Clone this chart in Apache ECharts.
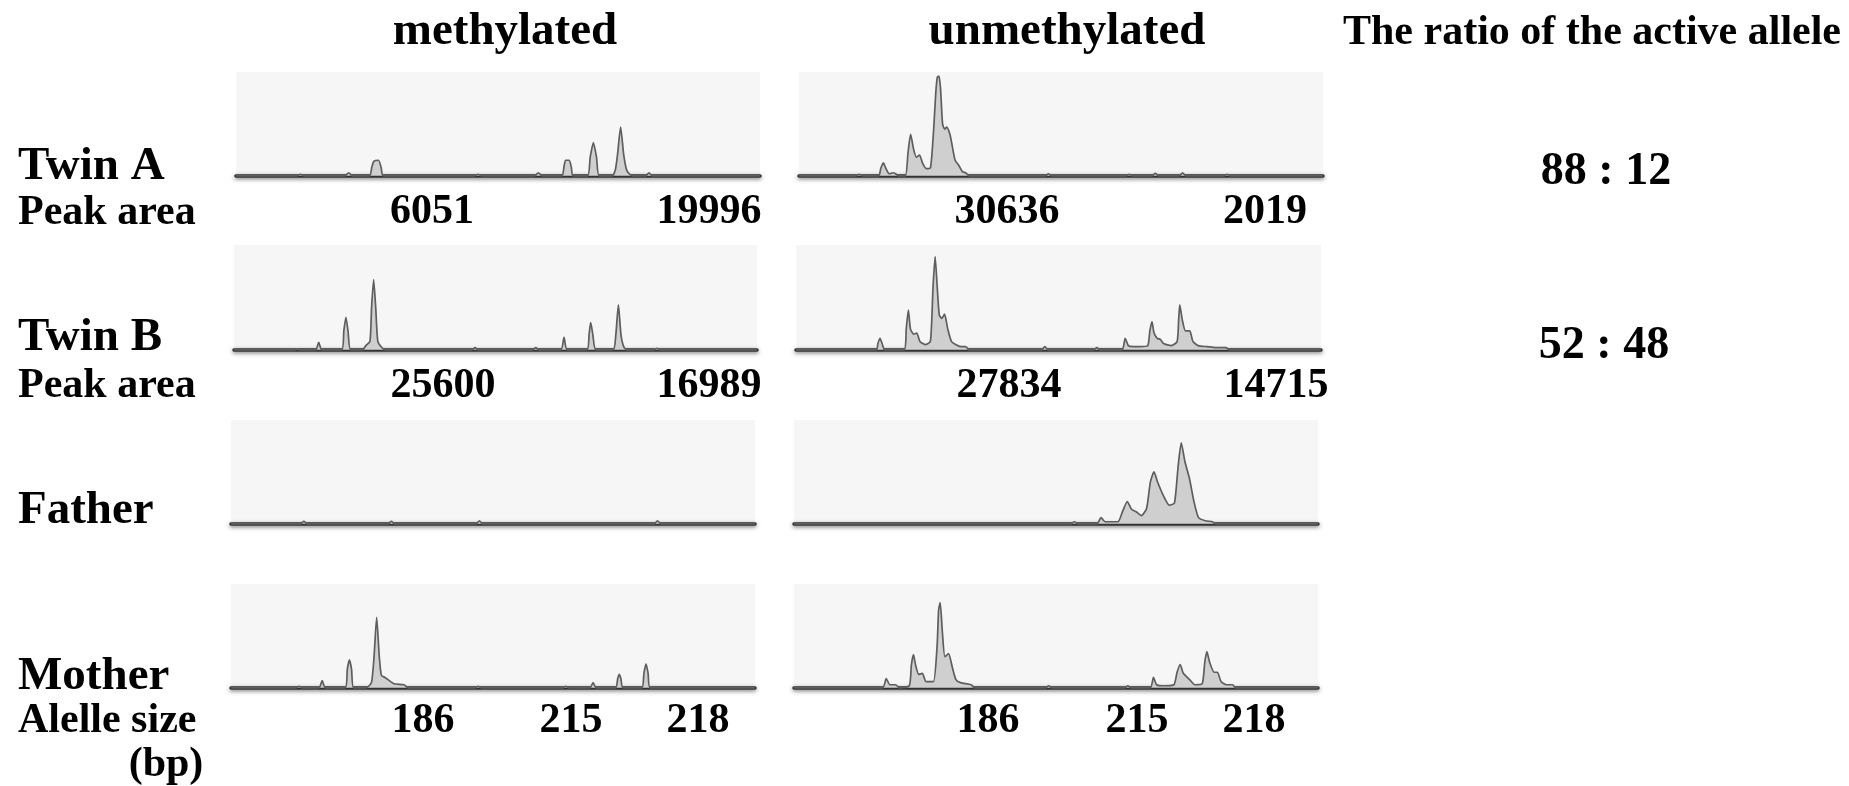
<!DOCTYPE html>
<html>
<head>
<meta charset="utf-8">
<script src="https://cdn.jsdelivr.net/npm/echarts@6/dist/echarts.min.js"></script>
<style>
  html, body { margin: 0; padding: 0; background: #fff; }
  #chart { width: 1849px; height: 786px; }
</style>
</head>
<body>
<div id="chart"></div>
<script>
// ---- Data (scan position 0-100 across each panel, relative signal 0-100) ----
const columnTitles = ['methylated', 'unmethylated'];
const ratioTitle = 'The ratio of the active allele';
const rowNames = ['Twin A', 'Twin B', 'Father', 'Mother'];
const peakAreaLabel = 'Peak area';
const alleleLabel = ['Alelle size', '(bp)'];
const peakAreaA = ['6051', '19996', '30636', '2019'];
const peakAreaB = ['25600', '16989', '27834', '14715'];
const alleleSizes = ['186', '215', '218'];
const ratios = ['88 : 12', '52 : 48'];

const twinAMethylated = [[0,0],[11.6,0],[12.3,1.5],[13,0],[20.8,0],[21.5,3],[22.2,0],[25.5,0],[25.9,8],[26.3,14],[27.2,15],[27.7,8],[28.1,0],[45.5,0],[46.2,1.5],[46.9,0],[57,0],[57.7,3],[58.4,0],[62.2,0],[62.6,9],[62.9,15],[63.6,15],[64.0,8],[64.3,0],[67.1,0],[67.6,18],[68.2,32],[68.8,18],[69.3,0],[71.8,0],[72.4,6],[72.8,20],[73.4,47],[74.0,20],[74.6,5],[75.6,0],[78.2,0],[78.8,3],[79.4,0],[100,0]];
const twinAUnmethylated = [[0,0],[10.8,0],[11.5,1.5],[12.2,0],[15.2,0],[15.6,7],[16.1,12.5],[16.6,7],[17.2,2],[18.1,3],[19,0],[20.3,0],[20.8,22],[21.3,40],[21.9,25],[22.4,18],[23,20],[23.6,12],[24.3,7],[25.1,8],[25.7,45],[26.1,80],[26.4,95],[26.7,96],[27.0,85],[27.4,50],[27.8,45],[28.2,47],[28.8,40],[29.2,30],[29.8,15],[30.5,10],[31.2,4],[31.8,3],[32.5,0],[47,0],[47.6,2],[48.2,0],[62.4,0],[63,1.5],[63.6,0],[67.4,0],[68,2.5],[68.6,0],[72.6,0],[73.2,3],[73.8,0],[81.1,0],[81.7,1.5],[82.3,0],[100,0]];
const twinBMethylated = [[0,0],[11.6,0],[12.1,1],[12.6,0],[15.6,0],[16.2,7],[16.8,0],[20.6,0],[21,18],[21.4,31],[21.8,18],[22.3,0],[24.6,0],[25.2,4],[26.0,8],[26.3,40],[26.7,67],[27.1,40],[27.5,8],[28.3,2],[29,0],[45.5,0],[46.1,2],[46.7,0],[57.1,0],[57.7,2],[58.3,0],[62.5,0],[63.1,12],[63.7,0],[67.5,0],[67.9,15],[68.2,26],[68.6,15],[69.2,0],[72.5,0],[73,14],[73.5,43],[74,14],[74.6,2],[75.3,0],[80.3,0],[80.9,1.5],[81.5,0],[100,0]];
const twinBUnmethylated = [[0,0],[15.3,0],[15.6,6],[16,11],[16.4,6],[16.9,0],[20.6,0],[21,20],[21.4,38],[21.8,20],[22.4,15],[23,16],[23.6,8],[24.6,5],[25.6,8],[26.1,60],[26.5,89],[26.9,60],[27.3,33],[27.8,30],[28.3,34],[28.9,20],[29.6,8],[30.4,5],[31.4,3],[32.3,3],[33,0],[46.8,0],[47.4,3],[48,0],[56.7,0],[57.3,2],[57.9,0],[62.1,0],[62.7,11],[63.3,4],[64.2,3],[65.5,3],[67.0,4],[67.4,18],[67.8,27],[68.2,16],[68.8,11],[69.4,10],[70,6],[71.5,4],[72.6,8],[72.9,30],[73.1,43],[73.6,28],[74.2,18],[75,18],[75.6,8],[76.6,4],[78.3,3],[80,2],[81.9,2],[82.5,0],[100,0]];
const fatherMethylated = [[0,0],[13.3,0],[13.9,2.5],[14.5,0],[30,0],[30.6,2.5],[31.2,0],[46.8,0],[47.4,3],[48,0],[80.8,0],[81.4,3],[82,0],[100,0]];
const fatherUnmethylated = [[0,0],[52.8,0],[53.5,2],[54.2,0],[57.8,0],[58.6,6],[59.4,2],[61.8,2],[62.7,12],[63.6,21.5],[64.4,14],[65.3,11.6],[66.3,8],[67.3,15],[68,40],[68.7,50],[69.4,40],[70.6,26],[71.6,18],[72.6,20],[73.3,55],[73.9,78],[74.6,60],[75.5,43],[76.3,22],[77.2,6],[78.5,3],[79.8,2],[80.6,0],[100,0]];
const motherMethylated = [[0,0],[12.4,0],[13,1.5],[13.6,0],[16.8,0],[17.4,7],[18,0],[21.8,0],[22.2,18],[22.6,27],[23.0,18],[23.4,0],[25.8,0],[26.8,5],[27.3,30],[27.8,68],[28.3,30],[28.7,12],[29.4,10],[31.1,4],[33,3],[33.8,0],[46.6,0],[47.2,1.5],[47.8,0],[63.3,0],[63.9,1.5],[64.5,0],[68.5,0],[69.1,5],[69.7,0],[73.4,0],[73.8,9],[74.1,13],[74.4,9],[74.8,0],[78.4,0],[78.8,14],[79.2,23],[79.6,14],[80,0],[100,0]];
const motherUnmethylated = [[0,0],[16.9,0],[17.6,9],[18.3,3],[19.4,3],[20.1,0],[22.0,2],[22.4,22],[22.8,32],[23.2,22],[23.8,13],[24.5,14],[25.2,6],[26.6,6],[27.3,40],[27.6,75],[27.9,82],[28.3,55],[28.8,30],[29.5,33],[30.2,20],[30.9,8],[31.8,5],[33.8,3],[34.5,0],[48,0],[48.6,2],[49.2,0],[63.1,0],[63.7,2],[64.3,0],[68,0],[68.6,10],[69.2,3],[70.5,2],[72.5,3],[73.1,15],[73.7,22.5],[74.3,14],[75.5,8],[76.5,3],[77.9,4],[78.4,25],[78.8,35],[79.3,25],[80.2,15],[80.8,15],[81.5,6],[82.5,3],[83.7,3],[84.3,0],[100,0]];

// ---- Layout ----
const traces = [twinAMethylated, twinAUnmethylated, twinBMethylated, twinBUnmethylated,
                fatherMethylated, fatherUnmethylated, motherMethylated, motherUnmethylated];
const panelBoxes = [
  [236, 72, 524, 108], [799, 72, 524, 108],
  [234, 245, 523, 109], [796, 245, 525, 109],
  [231, 420, 524, 108], [794, 420, 524, 108],
  [231, 584, 524, 108], [794, 584, 524, 108]
];

const grids = [], xAxes = [], yAxes = [], series = [];
traces.forEach((d, i) => {
  const b = panelBoxes[i];
  grids.push({ left: b[0], top: b[1], width: b[2], height: b[3], show: true,
               backgroundColor: '#f6f6f6', borderWidth: 0 });
  xAxes.push({ type: 'value', gridIndex: i, min: 0, max: 100,
    axisLine: { show: true, onZero: true,
      lineStyle: { color: '#333333', width: 3.5, shadowColor: 'rgba(0,0,0,0.5)', shadowBlur: 4, shadowOffsetY: 1.5 } },
    axisTick: { show: false }, axisLabel: { show: false }, splitLine: { show: false } });
  yAxes.push({ type: 'value', gridIndex: i, min: -4, max: 100, show: false,
    splitLine: { show: false } });
  series.push({ type: 'line', xAxisIndex: i, yAxisIndex: i, data: d, symbol: 'none',
    smooth: 0.2, silent: true,
    lineStyle: { color: '#5e5e5e', width: 1.7 },
    areaStyle: { color: '#cfcfcf', opacity: 1 } });
});

const F = '"Liberation Serif", "Times New Roman", serif';
function txt(text, x, y, size, align) {
  return { type: 'text', x: x, y: y, z: 10, silent: true,
    style: { text: text, fill: '#000', font: 'bold ' + size + 'px ' + F,
             align: align || 'center', verticalAlign: 'middle' } };
}
const g = [
  txt(columnTitles[0], 505, 32, 47), txt(columnTitles[1], 1067, 32, 47),
  txt(ratioTitle, 1592, 33, 42),
  txt(rowNames[0], 18, 167, 47, 'left'), txt(peakAreaLabel, 18, 213, 42, 'left'),
  txt(rowNames[1], 18, 338, 47, 'left'), txt(peakAreaLabel, 18, 386, 42, 'left'),
  txt(rowNames[2], 18, 511, 47, 'left'),
  txt(rowNames[3], 18, 677, 47, 'left'), txt(alleleLabel[0], 18, 721, 42, 'left'),
  txt(alleleLabel[1], 166, 765, 42),
  txt(peakAreaA[0], 432, 212, 42), txt(peakAreaA[1], 709, 212, 42),
  txt(peakAreaA[2], 1007, 212, 42), txt(peakAreaA[3], 1265, 212, 42),
  txt(peakAreaB[0], 443, 386, 42), txt(peakAreaB[1], 709, 386, 42),
  txt(peakAreaB[2], 1009, 386, 42), txt(peakAreaB[3], 1276, 386, 42),
  txt(alleleSizes[0], 423, 721, 42), txt(alleleSizes[1], 571, 721, 42), txt(alleleSizes[2], 698, 721, 42),
  txt(alleleSizes[0], 988, 721, 42), txt(alleleSizes[1], 1137, 721, 42), txt(alleleSizes[2], 1254, 721, 42),
  txt(ratios[0], 1606, 172, 46), txt(ratios[1], 1604, 346, 46)
];

const chart = echarts.init(document.getElementById('chart'), null, { renderer: 'canvas' });
chart.setOption({
  animation: false,
  backgroundColor: '#ffffff',
  grid: grids, xAxis: xAxes, yAxis: yAxes, series: series,
  graphic: g
});
</script>
</body>
</html>
